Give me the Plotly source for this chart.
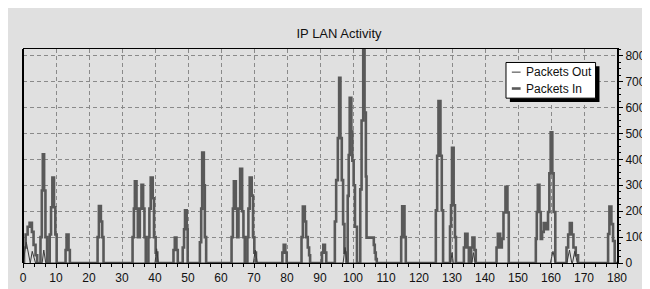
import plotly.graph_objects as go

title_text = "IP LAN Activity"
series_names = ["Packets Out", "Packets In"]

# Packets In (step samples: value holds until the next x)
in_x = [0, 0.3, 0.8, 1.4, 2.0, 2.7, 3.2, 3.8, 4.3,
        5.3, 5.7, 6.0, 6.4, 6.8, 7.3,
        8.1, 8.5, 8.9, 9.4, 9.8, 10.2,
        12.9, 13.2, 13.8, 14.2,
        22.6, 23.0, 23.6, 24.0, 24.4,
        33.2, 33.6, 33.9, 34.4, 34.8, 35.4, 35.9, 36.4, 36.8, 37.2,
        38.0, 38.3, 38.7, 39.3, 39.7, 40.2, 40.7,
        45.6, 46.0, 46.5, 46.9,
        48.4, 48.8, 49.1, 49.6, 49.9,
        53.6, 54.0, 54.3, 54.8, 55.1, 55.5,
        63.2, 63.6, 63.9, 64.5, 64.9, 65.3, 65.8, 66.4, 66.8, 67.2,
        68.0, 68.3, 68.7, 69.3, 69.7, 70.1, 70.6,
        78.6, 79.0, 79.5, 79.9,
        84.4, 84.8, 85.4, 85.8, 86.3, 86.7, 87.0,
        90.6, 91.0, 91.5, 91.9,
        94.5, 94.9, 95.4, 95.8, 96.2, 96.6, 97.0, 97.4, 98.0,
        98.4, 98.7, 99.0, 99.5, 99.8, 100.2, 100.6, 101.2,
        102.2, 102.6, 103.1, 103.5, 103.9, 104.1, 106.3, 106.6, 106.9, 107.2, 107.5,
        114.6, 114.9, 115.6, 116.0,
        125.1, 125.5, 125.9, 126.5, 126.9, 127.3,
        129.4, 129.7, 130.0, 130.5, 130.9, 131.2,
        133.6, 134.0, 134.7, 135.1, 135.8, 136.2, 136.8, 137.2,
        143.5, 143.9, 144.6, 145.1, 145.6, 146.2, 146.8, 147.2,
        155.4, 155.7, 156.0, 156.5, 156.9, 157.3, 157.8, 158.5, 159.1, 159.5, 159.9, 160.4, 160.8, 161.3,
        164.7, 165.2, 165.7, 166.3, 166.8, 167.5, 168.2,
        177.3, 177.7, 178.3, 178.8, 179.3, 180.0]
in_y = [0, 60, 110, 140, 155, 120, 70, 30, 0,
        100, 280, 420, 280, 100, 0,
        110, 215, 330, 215, 110, 0,
        50, 110, 50, 0,
        100, 220, 160, 100, 0,
        100, 210, 315, 210, 100, 210, 302, 210, 100, 0,
        100, 210, 330, 250, 100, 40, 0,
        50, 98, 50, 0,
        60, 130, 203, 130, 0,
        80, 210, 426, 300, 100, 0,
        100, 210, 315, 210, 100, 210, 364, 200, 100, 0,
        100, 210, 330, 260, 100, 40, 0,
        40, 70, 40, 0,
        100, 218, 160, 100, 60, 30, 0,
        40, 70, 40, 0,
        160, 320, 482, 715, 482, 320, 150, 40, 0,
        259, 417, 638, 507, 395, 300, 140, 0,
        284, 550, 830, 581, 334, 98, 70, 40, 15, 0, 0,
        100, 219, 100, 0,
        203, 414, 625, 414, 203, 0,
        141, 223, 445, 223, 100, 0,
        60, 113, 60, 0, 60, 98, 50, 0,
        60, 113, 60, 93, 195, 294, 195, 0,
        93, 197, 302, 197, 93, 120, 154, 130, 197, 346, 504, 346, 197, 0,
        60, 110, 154, 110, 60, 30, 0,
        112, 218, 150, 85, 0, 0]

# Packets Out
out_x = [0, 1.0, 2.2, 2.8, 3.8, 5.8, 6.3, 6.9, 40.0, 40.5, 41.0,
         69.8, 70.4, 71.0, 97.0, 97.6, 98.2, 129.6, 130.0, 130.4,
         136.0, 136.5, 137.0, 159.8, 160.6, 161.4,
         164.8, 165.6, 166.3, 166.5, 167.2, 168.0, 180.0]
out_y = [0, 80, 0, 45, 0, 0, 50, 0, 0, 55, 0,
         0, 50, 0, 0, 60, 0, 0, 40, 0,
         0, 40, 0, 0, 45, 0,
         0, 50, 0, 0, 45, 0, 0]

x_ticks = list(range(0, 181, 10))
y_ticks = list(range(0, 801, 100))

BG = "#e0e0e0"
FONT = "Liberation Sans, Arial, sans-serif"

fig = go.Figure()
fig.add_trace(go.Scatter(x=in_x, y=in_y, mode="lines", name=series_names[1],
                         line=dict(color="#595959", width=2.6, shape="hv")))
fig.add_trace(go.Scatter(x=out_x, y=out_y, mode="lines", name=series_names[0],
                         line=dict(color="#3a3a3a", width=1)))

# plot area in pixels: x 13..623, y 41..263
def px(x):
    return (x - 13) / 610.0

def py(y):
    return (263 - y) / 222.0

shapes = [
    dict(type="line", xref="paper", yref="paper", x0=0, x1=0, y0=0, y1=1,
         line=dict(color="black", width=2), layer="above"),
    dict(type="rect", xref="paper", yref="paper", x0=px(513), x1=px(605), y0=py(96), y1=py(59),
         fillcolor="black", line=dict(width=0), layer="above"),
    dict(type="rect", xref="paper", yref="paper", x0=px(509), x1=px(601), y0=py(92), y1=py(55),
         fillcolor="white", line=dict(color="black", width=1), layer="above"),
    dict(type="line", xref="paper", yref="paper", x0=px(515), x1=px(524), y0=py(65), y1=py(65),
         line=dict(color="#3a3a3a", width=1), layer="above"),
    dict(type="line", xref="paper", yref="paper", x0=px(515), x1=px(524), y0=py(82), y1=py(82),
         line=dict(color="#595959", width=2.6), layer="above"),
]
annotations = [
    dict(text=series_names[0], xref="paper", yref="paper", x=px(527), y=py(65),
         xanchor="left", yanchor="middle", showarrow=False,
         font=dict(family=FONT, size=12, color="#111")),
    dict(text=series_names[1], xref="paper", yref="paper", x=px(527), y=py(82),
         xanchor="left", yanchor="middle", showarrow=False,
         font=dict(family=FONT, size=12, color="#111")),
]

fig.update_layout(
    width=650, height=289,
    margin=dict(l=13, r=27, t=41, b=26),
    paper_bgcolor=BG, plot_bgcolor=BG,
    showlegend=False,
    title=dict(text=title_text, x=331 / 650, xref="container", xanchor="center",
               y=1 - 25 / 289, yref="container", yanchor="middle",
               font=dict(family=FONT, size=13, color="#111")),
    shapes=shapes, annotations=annotations,
    xaxis=dict(range=[0, 180], tickvals=x_ticks, ticks="outside", ticklen=4, tickcolor="black",
               showline=True, linecolor="black", linewidth=1, mirror=True,
               showgrid=True, gridcolor="#8a8a8a", griddash="4px,3px", gridwidth=1,
               zeroline=False, tickfont=dict(family=FONT, size=12, color="#111"),
               minor=dict(dtick=10 / 3, ticklen=3, tickcolor="black", ticks="outside", showgrid=False)),
    yaxis=dict(range=[0, 826], tickvals=y_ticks, side="right", ticks="outside", ticklen=4,
               tickcolor="black", showline=True, linecolor="black", linewidth=2,
               showgrid=True, gridcolor="#8a8a8a", griddash="4px,3px", gridwidth=1,
               zeroline=False, tickfont=dict(family=FONT, size=12, color="#111"),
               minor=dict(dtick=25, ticklen=2, tickcolor="black", ticks="outside", showgrid=False)),
)

fig.write_html("out.html")
